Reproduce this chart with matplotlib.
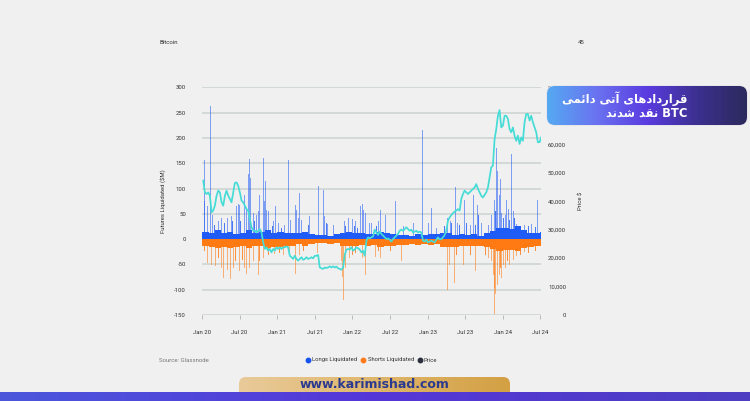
import matplotlib
matplotlib.use("Agg")
import matplotlib.pyplot as plt
import matplotlib.dates as mdates
import numpy as np
import pandas as pd
from matplotlib.patches import FancyBboxPatch, Rectangle
from matplotlib.colors import LinearSegmentedColormap

# ---------------- data ----------------
months = pd.date_range("2020-01-01", "2024-07-01", freq="MS")
long_band = [15, 13, 18, 13, 15, 11, 13, 18, 13, 15, 18, 13,
             15, 13, 12, 13, 15, 10, 8, 8, 7, 10, 13, 15,
             13, 13, 11, 11, 15, 13, 11, 8, 8, 7, 11, 8,
             10, 10, 13, 12, 8, 11, 8, 11, 7, 13, 16, 22,
             22, 20, 25, 18, 13, 13, 15]
short_band = [-13, -15, -17, -15, -17, -15, -13, -17, -14, -13, -17, -15,
              -15, -13, -13, -10, -14, -10, -8, -8, -9, -8, -13, -14,
              -13, -12, -13, -12, -15, -14, -13, -12, -12, -10, -12, -10,
              -12, -10, -15, -16, -15, -14, -13, -14, -13, -15, -19, -24,
              -22, -21, -24, -17, -15, -14, -14]

long_spike_dates = [
    "2020-01-12", "2020-01-14", "2020-01-25", "2020-02-12", "2020-02-20", "2020-03-19", "2020-04-04",
    "2020-05-03", "2020-05-23", "2020-06-16", "2020-06-26", "2020-06-29", "2020-07-26", "2020-08-03",
    "2020-08-13", "2020-08-20", "2020-08-25", "2020-09-05", "2020-09-21", "2020-10-03", "2020-10-07",
    "2020-10-24", "2020-11-01", "2020-11-04", "2020-11-09", "2020-11-17", "2020-12-11", "2020-12-21",
    "2021-01-04", "2021-02-06",
    "2021-02-24", "2021-03-07", "2021-03-28", "2021-04-05", "2021-04-12", "2021-04-20", "2021-04-28",
    "2021-06-04", "2021-07-19", "2021-08-13", "2021-08-16", "2021-09-01", "2021-09-29", "2021-11-21",
    "2021-12-12", "2022-01-01", "2022-01-17", "2022-02-10", "2022-02-18", "2022-02-23", "2022-03-07",
    "2022-03-23",
    "2022-04-05", "2022-05-07", "2022-05-19", "2022-06-09", "2022-07-31", "2022-09-06", "2022-10-24",
    "2022-12-09", "2023-01-05", "2023-01-22", "2023-02-15", "2023-04-08", "2023-04-21", "2023-05-15",
    "2023-05-26",
    "2023-07-02", "2023-07-27", "2023-08-12", "2023-09-02", "2023-09-22", "2023-10-24", "2023-11-09",
    "2023-11-22", "2023-12-04", "2023-12-08", "2023-12-15", "2023-12-20", "2023-12-28", "2024-01-13",
    "2024-01-21", "2024-01-29", "2024-02-15", "2024-02-22", "2024-03-10", "2024-04-19", "2024-05-22",
    "2024-06-20"]
long_spike_values = [
    157, 75, 65, 263, 48, 35, 42, 42, 45, 65, 70, 68, 88, 58, 128, 158, 120, 52, 48, 55, 88,
    160, 75, 115, 58, 55, 35, 65, 32, 28,
    156, 38, 68, 58, 42, 91, 38, 45, 105, 98, 45, 30, 28, 35, 42, 40, 35, 65, 70, 58, 52, 32,
    32, 35, 58, 48, 76, 25, 32, 215, 32, 62, 22, 42, 35, 103, 32,
    78, 28, 88, 68, 32, 28, 48, 78, 181, 134, 88, 118, 52, 48, 78, 60, 169, 55, 30, 28, 30, 78]

long_mid_dates = [
    "2020-02-28", "2020-04-20", "2020-05-28", "2020-07-04", "2020-09-12", "2020-12-06", "2021-01-20",
    "2021-05-31", "2021-08-26", "2021-11-30", "2022-01-09", "2022-01-26", "2022-04-29", "2023-03-25",
    "2023-04-29", "2023-06-04", "2023-07-10", "2023-08-20", "2023-09-08", "2023-11-29", "2024-01-05",
    "2024-02-06", "2024-03-01", "2024-05-07", "2024-06-09"]
long_mid_values = [28, 32, 35, 35, 35, 25, 22, 28, 32, 25, 25, 22, 25, 25, 32, 28, 32, 28, 48, 55,
                   42, 38, 42, 25, 23]

short_spike_dates = [
    "2020-01-25", "2020-02-15", "2020-03-06", "2020-04-04", "2020-04-12", "2020-05-03", "2020-05-18",
    "2020-05-31", "2020-07-02", "2020-07-26", "2020-08-03", "2020-08-20", "2020-09-05", "2020-09-29",
    "2020-10-24", "2020-12-19", "2021-01-29",
    "2021-02-27", "2021-03-31", "2021-04-17", "2021-07-15", "2021-11-08", "2021-11-15", "2021-11-18",
    "2021-11-30", "2021-12-16", "2022-02-18", "2022-03-03",
    "2022-04-21", "2022-05-19", "2022-08-29", "2023-03-27", "2023-04-08", "2023-04-16", "2023-05-10",
    "2023-06-24", "2023-08-23", "2023-10-24", "2023-11-09", "2023-11-17", "2023-11-22", "2023-11-25",
    "2023-11-30", "2023-12-07", "2023-12-15", "2023-12-28", "2024-01-05", "2024-01-13", "2024-02-06",
    "2024-02-22", "2024-03-10", "2024-04-19"]
short_spike_values = [
    -48, -51, -54, -58, -77, -61, -79, -58, -64, -58, -68, -58, -44, -71, -38, -30, -32,
    -25, -68, -31, -28, -44, -74, -120, -58, -38, -38, -71,
    -36, -38, -44, -58, -100, -51, -86,
    -51, -64, -38, -44, -71, -97, -148, -108, -90, -71, -77, -51, -58, -51, -41, -34, -25]

short_mid_dates = [
    "2020-01-14", "2020-03-19", "2020-06-10", "2020-07-15", "2020-10-08", "2020-11-20", "2021-01-10",
    "2021-05-08", "2022-01-01", "2022-01-17", "2022-05-07", "2022-07-03", "2023-05-23", "2023-07-27",
    "2023-10-08", "2023-12-20", "2024-01-25", "2024-03-27", "2024-05-07", "2024-06-09"]
short_mid_values = [-24, -38, -44, -41, -44, -31, -28, -24, -31, -28, -24, -24, -31, -31, -31, -58,
                    -44, -31, -28, -24]

price_k = [
    47.2, 43.1, 42.5, 43.1, 41.9, 36.1, 36.7, 38.4, 41.9, 43.7, 43.1, 39.6, 38.4, 41.9, 43.7, 41.9,
    40.8, 39.6, 43.1, 46.4, 46.6, 45.4, 43.1, 40.2, 39.6, 38.4, 37.2, 36.7, 33.7, 30.8, 29.6, 29.6,
    29.0, 29.6, 30.2, 29.0, 25.5, 23.2, 23.8, 22.6, 23.2, 22.0, 23.2, 22.6, 23.8, 23.2, 23.8, 23.2,
    23.8, 23.8, 24.1, 23.8,
    20.8, 20.3, 19.7, 20.8, 19.7, 19.1, 19.7, 20.3, 19.4, 19.7, 20.3, 19.7, 19.9, 20.3, 19.9, 20.8,
    20.8, 21.1, 16.7, 16.4, 16.2, 16.7, 16.5, 16.7, 17.1, 16.7, 17.1, 16.7, 17.0, 16.4, 16.2, 15.9,
    16.7, 21.1, 23.0, 23.2, 23.0, 23.8, 22.6, 23.0, 23.8, 23.4, 23.0, 22.0, 22.6, 20.8, 26.1, 27.3,
    26.9, 27.3, 27.6,
    30.0, 29.0, 28.1, 29.3, 28.5, 27.9, 27.3, 26.7, 26.9, 26.5, 25.8, 26.7, 27.3, 27.9, 28.5, 29.6,
    30.0, 29.6, 30.2, 30.8, 30.2, 29.6, 30.0, 29.0, 29.3, 29.6, 29.0, 29.3, 29.0, 26.1, 25.8, 26.5,
    25.5, 25.8, 26.1, 25.8, 25.5, 26.5, 27.3, 26.5, 26.7, 27.3, 28.1, 29.6, 33.1, 34.3, 35.1, 35.8,
    36.3, 36.7, 37.2, 36.7,
    40.8, 42.5, 43.7, 43.1, 42.5, 43.1, 43.7, 44.3, 44.8, 46.0, 44.3, 43.1, 41.9, 41.3, 42.2, 43.1,
    44.8, 48.4, 51.9, 52.5, 61.8, 65.3, 70.0, 72.0, 65.9, 66.5, 70.0, 70.0, 68.9, 65.3, 64.2, 65.9,
    63.0, 61.2, 63.0, 60.1, 62.4, 61.2, 67.7, 70.6, 70.6, 68.3, 70.0, 67.7, 65.9, 64.2, 60.7, 60.7,
    62.4]
price_dates = pd.date_range("2020-01-06", "2024-07-07", periods=len(price_k))

left_ticks = [-150, -100, -50, 0, 50, 100, 150, 200, 250, 300]
right_ticks = [0, 10000, 20000, 30000, 40000, 50000, 60000, 70000, 80000]
x_tick_dates = pd.date_range("2020-01-01", "2024-07-01", freq="6MS")
x_tick_labels = ["Jan 20", "Jul 20", "Jan 21", "Jul 21", "Jan 22", "Jul 22",
                 "Jan 23", "Jul 23", "Jan 24", "Jul 24"]

title_text = "قراردادهای آتی دائمی"
title_text2 = "BTC نقد شدند"

# ---------------- minimal Persian shaping for display ----------------
FORMS = {
    "ا": ("\uFE8D", "\uFE8E", None, None),
    "آ": ("\uFE81", "\uFE82", None, None),
    "ر": ("\uFEAD", "\uFEAE", None, None),
    "د": ("\uFEA9", "\uFEAA", None, None),
    "ق": ("\uFED5", "\uFED6", "\uFED7", "\uFED8"),
    "ه": ("\uFEE9", "\uFEEA", "\uFEEB", "\uFEEC"),
    "ت": ("\uFE95", "\uFE96", "\uFE97", "\uFE98"),
    "م": ("\uFEE1", "\uFEE2", "\uFEE3", "\uFEE4"),
    "ن": ("\uFEE5", "\uFEE6", "\uFEE7", "\uFEE8"),
    "ش": ("\uFEB5", "\uFEB6", "\uFEB7", "\uFEB8"),
    "ئ": ("\uFE89", "\uFE8A", "\uFE8B", "\uFE8C"),
    "ی": ("\uFBFC", "\uFBFD", "\uFBFE", "\uFBFF"),
}


def shape_word(w):
    out = []
    for i, c in enumerate(w):
        f = FORMS.get(c)
        if f is None:
            out.append(c)
            continue
        prev = w[i - 1] if i > 0 else None
        nxt = w[i + 1] if i + 1 < len(w) else None
        jp = prev in FORMS and FORMS[prev][2] is not None
        jn = nxt in FORMS and f[2] is not None
        if jp and jn:
            out.append(f[3])
        elif jp:
            out.append(f[1])
        elif jn:
            out.append(f[2])
        else:
            out.append(f[0])
    return "".join(out)


def rtl_visual(s):
    toks = []
    for t in s.split(" "):
        if any(ch in FORMS for ch in t):
            toks.append(shape_word(t)[::-1])
        else:
            toks.append(t)
    return " ".join(reversed(toks))


# ---------------- figure ----------------
BG = "#f0f0f0"
BLUE = "#1f5bf7"
ORANGE = "#ff7a12"
CYAN = "#45dcd6"
W, H = 750, 401
fig = plt.figure(figsize=(7.5, 4.01), dpi=100, facecolor=BG)

ax = fig.add_axes([202 / W, 1 - 315 / H, (541 - 202) / W, (315 - 87.3) / H])
ax.set_facecolor(BG)
ax.patch.set_alpha(0)

mnum = mdates.date2num(months)
mwidth = [(mdates.date2num(d + pd.offsets.MonthBegin(1)) - mdates.date2num(d)) for d in months]
ax.bar(mnum, long_band, width=mwidth, align="edge", color=BLUE, linewidth=0, zorder=2)
ax.bar(mnum, short_band, width=mwidth, align="edge", color=ORANGE, linewidth=0, zorder=2)
ax.bar(mdates.date2num(pd.to_datetime(long_mid_dates)), long_mid_values, width=4.8,
       color=BLUE, alpha=0.8, linewidth=0, zorder=2)
ax.bar(mdates.date2num(pd.to_datetime(short_mid_dates)), short_mid_values, width=4.8,
       color=ORANGE, alpha=0.8, linewidth=0, zorder=2)
ax.bar(mdates.date2num(pd.to_datetime(long_spike_dates)), long_spike_values, width=4.8,
       color=BLUE, alpha=0.55, linewidth=0, zorder=2)
ax.bar(mdates.date2num(pd.to_datetime(short_spike_dates)), short_spike_values, width=4.8,
       color=ORANGE, alpha=0.55, linewidth=0, zorder=2)

ax.set_ylim(-150, 300)
ax.set_xlim(mdates.date2num(pd.Timestamp("2019-12-31")), mdates.date2num(pd.Timestamp("2024-07-06")))
ax.set_yticks(left_ticks)
ax.set_yticklabels([str(v) for v in left_ticks])
ax.set_xticks(mdates.date2num(x_tick_dates))
ax.set_xticklabels(x_tick_labels)
ax.set_axisbelow(True)
ax.yaxis.grid(True, color="#cbd3cf", linewidth=1.1, zorder=0)
for s in ax.spines.values():
    s.set_visible(False)
ax.tick_params(axis="y", length=0, pad=11.5, labelsize=4.3, labelcolor="#333333")
ax.tick_params(axis="x", length=3, width=0.6, color="#b0b0b0", pad=8, labelsize=4.3,
               labelcolor="#333333")
for lbl in ax.get_xticklabels() + ax.get_yticklabels():
    lbl.set_family("Roboto")

ax2 = ax.twinx()
ax2.plot(mdates.date2num(price_dates), np.array(price_k) * 1000, color=CYAN, lw=1.25,
         solid_joinstyle="round", zorder=5)
ax2.set_ylim(0, 80000)
ax2.set_yticks(right_ticks)
ax2.set_yticklabels([f"{v:,}" for v in right_ticks])
for s in ax2.spines.values():
    s.set_visible(False)
ax2.tick_params(axis="y", length=0, pad=18, labelsize=4.3, labelcolor="#333333")
for lbl in ax2.get_yticklabels():
    lbl.set_horizontalalignment("right")
    lbl.set_family("Roboto")

fig.text(163 / W, 1 - 201 / H, "Futures Liquidated ($M)", rotation=90, ha="center", va="center",
         fontsize=4.3, color="#333333", family="Roboto")
fig.text(580.5 / W, 1 - 201 / H, "Price $", rotation=90, ha="center", va="center",
         fontsize=4.3, color="#333333", family="Roboto")
fig.text(159 / W, 1 - 42 / H, "Bitcoin", ha="left", va="center", fontsize=4.3, color="#333333",
         family="Roboto")
fig.text(581 / W, 1 - 42 / H, "45", ha="center", va="center", fontsize=4.3, color="#333333",
         family="Roboto")
fig.text(159 / W, 1 - 360 / H, "Source: Glassnode", ha="left", va="center", fontsize=4.3,
         color="#777777", family="Roboto")

# ---------------- overlay ----------------
ov = fig.add_axes([0, 0, 1, 1])
ov.set_xlim(0, W)
ov.set_ylim(H, 0)
ov.axis("off")
ov.set_zorder(10)
ov.patch.set_alpha(0)

# legend
for xd, col, xt, txt in [(308.3, "#1652f0", 312.5, "Longs Liquidated"),
                          (363.3, "#ff7a1a", 367.5, "Shorts Liquidated"),
                          (420.0, "#2b2f3c", 424.0, "Price")]:
    ov.plot([xd], [360], marker="o", markersize=3.2, color=col, linestyle="none")
    ov.text(xt, 360, txt, ha="left", va="center", fontsize=4.2, color="#333333", family="Roboto")


def grad_box(x0, y0, w, h, colors, r, edge=None):
    cmap = LinearSegmentedColormap.from_list("g", colors)
    g = np.linspace(0, 1, 256).reshape(1, -1)
    im = ov.imshow(g, cmap=cmap, extent=[x0, x0 + w, y0 + h, y0], aspect="auto",
                   interpolation="bicubic", zorder=2)
    if r > 0:
        p = FancyBboxPatch((x0, y0), w, h, boxstyle=f"round,pad=0,rounding_size={r}",
                           facecolor="none", edgecolor="none")
    else:
        p = Rectangle((x0, y0), w, h, facecolor="none", edgecolor="none")
    ov.add_patch(p)
    im.set_clip_path(p)
    if edge:
        ov.add_patch(FancyBboxPatch((x0, y0), w, h, boxstyle=f"round,pad=0,rounding_size={r}",
                                    facecolor="none", edgecolor=edge, lw=1.0, zorder=1))
    ov.set_xlim(0, W)
    ov.set_ylim(H, 0)


# Persian title box
grad_box(547, 86, 200, 39, ["#55a9f2", "#6a72f0", "#5a3ce0", "#3c3090", "#2c2a5c"], 8,
         edge="#e2e2ea")
ov.text(687, 98.5, rtl_visual(title_text), ha="right", va="center", color="white",
        fontsize=8.3, fontweight="bold", family="DejaVu Sans", zorder=5)
ov.text(687, 113.5, rtl_visual(title_text2), ha="right", va="center", color="white",
        fontsize=8.3, fontweight="bold", family="DejaVu Sans", zorder=5)

# gold banner
grad_box(239, 377, 271, 30, ["#e9cb9a", "#dfb66c", "#d3a043"], 7)
# bottom strip
grad_box(0, 392, 750, 9.5, ["#4b57dc", "#5536d8", "#4d3fc2"], 0)
ov.text(375, 385, "www.karimishad.com", ha="center", va="center", color="#2b3a8f",
        fontsize=9, fontweight="bold", family="DejaVu Sans", zorder=5)

fig.savefig("out.png", dpi=100, facecolor=BG)
